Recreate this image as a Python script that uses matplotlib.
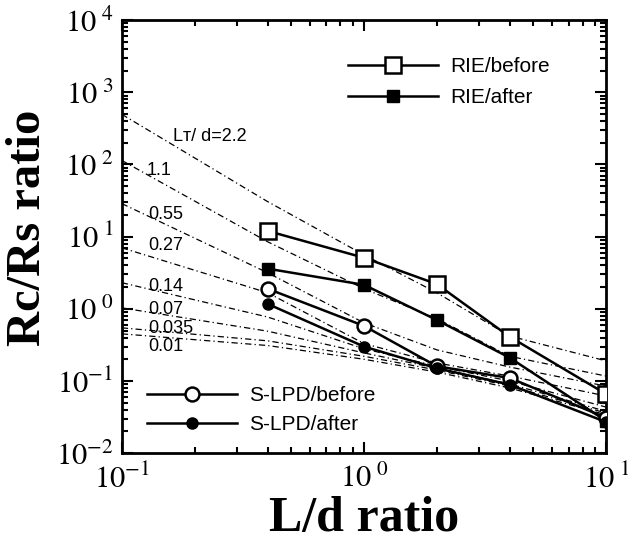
import matplotlib
matplotlib.use('Agg')
import matplotlib.pyplot as plt
from matplotlib.ticker import LogLocator, FixedLocator, FixedFormatter, NullFormatter

# measured points (L/d)
ld = [0.4, 1, 2, 4, 10]
rie_before = [12.0, 5.1, 2.2, 0.41, 0.066]
rie_after = [3.6, 2.15, 0.70, 0.21, 0.028]
slpd_before = [1.9, 0.58, 0.16, 0.11, 0.031]
slpd_after = [1.17, 0.30, 0.15, 0.089, 0.027]

# calculated curves
theory_x = [0.1, 0.4, 1, 2, 4, 10]
lt_22 = [495, 30.6, 5.6, 1.67, 0.42, 0.19]
lt_11 = [113.6, 8.5, 1.9, 0.73, 0.22, 0.117]
lt_055 = [28.7, 3.16, 0.64, 0.27, 0.156, 0.085]
lt_027 = [7.0, 1.67, 0.33, 0.178, 0.117, 0.062]
lt_014 = [2.30, 0.77, 0.28, 0.16, 0.10, 0.0435]
lt_007 = [1.03, 0.49, 0.245, 0.15, 0.091, 0.038]
lt_0035 = [0.545, 0.36, 0.22, 0.142, 0.085, 0.036]
lt_001 = [0.45, 0.31, 0.20, 0.133, 0.08, 0.034]
curve_labels = ['Lᴛ/ d=2.2', '1.1', '0.55', '0.27', '0.14', '0.07', '0.035', '0.01']
label_x = [0.162, 0.126, 0.128, 0.128, 0.128, 0.128, 0.128, 0.128]
label_y = [245, 82, 20.2, 7.5, 2.02, 0.97, 0.53, 0.30]

plt.rcParams['mathtext.fontset'] = 'stix'
plt.rcParams['font.family'] = ['Liberation Sans', 'DejaVu Sans']

fig = plt.figure(figsize=(6.28, 5.44), dpi=100)
ax = fig.add_axes([0.194, 0.167, 0.771, 0.796])

curves = [lt_22, lt_11, lt_055, lt_027, lt_014, lt_007, lt_0035, lt_001]
for c in curves:
    ax.plot(theory_x, c, color='black', lw=0.9, linestyle=(0, (5, 2.5, 1, 2.5)))

for lab, lx, ly in zip(curve_labels, label_x, label_y):
    ax.text(lx, ly, lab, fontsize=13, va='center', ha='left',
            family=['Liberation Sans', 'DejaVu Sans'])

l1, = ax.plot(ld, rie_before, '-s', color='black', lw=1.8, ms=11,
              mfc='white', mec='black', mew=1.8, label='RIE/before', zorder=5)
l2, = ax.plot(ld, rie_after, '-s', color='black', lw=1.8, ms=8.5,
              mfc='black', mec='black', label='RIE/after', zorder=5)
l3, = ax.plot(ld, slpd_before, '-o', color='black', lw=1.8, ms=10,
              mfc='white', mec='black', mew=1.8, label='S-LPD/before', zorder=5)
l4, = ax.plot(ld, slpd_after, '-o', color='black', lw=1.8, ms=8,
              mfc='black', mec='black', label='S-LPD/after', zorder=5)

ax.set_xscale('log')
ax.set_yscale('log')
ax.set_xlim(0.1, 10)
ax.set_ylim(0.01, 1e4)

for s in ax.spines.values():
    s.set_linewidth(2)

ax.xaxis.set_major_locator(FixedLocator([0.1, 1, 10]))
ax.xaxis.set_major_formatter(FixedFormatter([r'$\mathrm{10^{-1}}$', r'$\mathrm{10^{\ 0}}$', r'$\mathrm{10^{\ 1}}$']))
ax.yaxis.set_major_locator(FixedLocator([0.01, 0.1, 1, 10, 100, 1000, 10000]))
ax.yaxis.set_major_formatter(FixedFormatter([r'$\mathrm{10^{-2}}$', r'$\mathrm{10^{-1}}$', r'$\mathrm{10^{\ 0}}$',
                                             r'$\mathrm{10^{\ 1}}$', r'$\mathrm{10^{\ 2}}$', r'$\mathrm{10^{\ 3}}$',
                                             r'$\mathrm{10^{\ 4}}$']))
ax.xaxis.set_minor_locator(LogLocator(base=10, subs=range(2, 10)))
ax.yaxis.set_minor_locator(LogLocator(base=10, subs=range(2, 10)))
ax.xaxis.set_minor_formatter(NullFormatter())
ax.yaxis.set_minor_formatter(NullFormatter())
ax.tick_params(which='both', direction='in', top=True, right=True, width=1.5, labelsize=22)
ax.tick_params(which='major', length=8)
ax.tick_params(which='minor', length=4)
ax.tick_params(axis='x', pad=8)
ax.tick_params(axis='y', pad=6)

ax.set_xlabel('L/d ratio', fontsize=36, fontweight='bold', family='Liberation Serif')
ax.set_ylabel('Rc/Rs ratio', fontsize=35, fontweight='bold', family='Liberation Serif')
ax.xaxis.set_label_coords(0.5, -0.1)
ax.yaxis.set_label_coords(-0.148, 0.52)

leg1 = ax.legend(handles=[l1, l2], loc='upper left', bbox_to_anchor=(0.467, 0.915),
                 frameon=False, fontsize=15, handlelength=4.3, handletextpad=0.6,
                 labelspacing=0.6, borderpad=0, borderaxespad=0)
ax.add_artist(leg1)
ax.legend(handles=[l3, l4], loc='upper left', bbox_to_anchor=(0.052, 0.155),
          frameon=False, fontsize=15, handlelength=4.3, handletextpad=0.6,
          labelspacing=0.5, borderpad=0, borderaxespad=0)

fig.savefig('out.png', dpi=100)
